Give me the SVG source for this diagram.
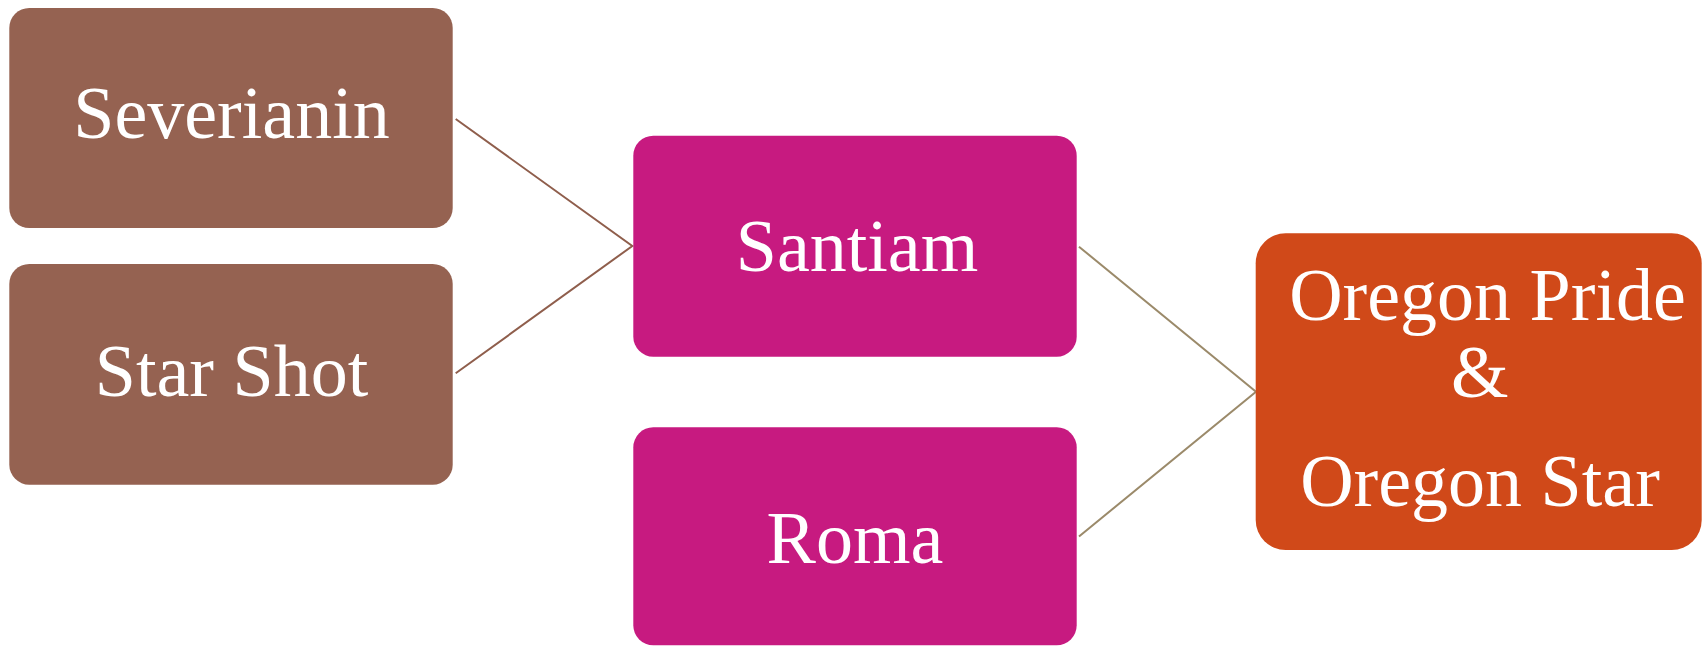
<svg xmlns="http://www.w3.org/2000/svg" width="1707" height="646" viewBox="0 0 1707 646">
<style>
.lbl{font-family:"Liberation Serif","Times New Roman",serif;font-size:74px;fill:#FFFFFF;text-anchor:middle}
.brown{fill:#956251}
.mag{fill:#C71A80}
.org{fill:#D04919}
.c1{stroke:#8F5E4C;stroke-width:2;fill:none}
.c2{stroke:#9B8A6A;stroke-width:2;fill:none}
</style>
<rect width="1707" height="646" fill="#FFFFFF"/>
<g id="connectors">
<path class="c1" d="M455.7,119 L632.3,246 L455.7,373.3"/>
<path class="c2" d="M1079,246.7 L1256,391.7 L1079,536.5"/>
</g>
<g id="severianin">
<rect class="brown" x="9.3" y="8" width="443.4" height="220" rx="20" ry="20"/>
<text class="lbl" x="231.5" y="138">Severianin</text>
</g>
<g id="starshot">
<rect class="brown" x="9.3" y="264" width="443.4" height="220.7" rx="20" ry="20"/>
<text class="lbl" x="231.5" y="395.7">Star Shot</text>
</g>
<g id="santiam">
<rect class="mag" x="633.3" y="135.7" width="443.4" height="221" rx="20" ry="20"/>
<text class="lbl" x="857" y="271">Santiam</text>
</g>
<g id="roma">
<rect class="mag" x="633.3" y="427.3" width="443.4" height="218" rx="20" ry="20"/>
<text class="lbl" x="855" y="562.7">Roma</text>
</g>
<g id="oregon">
<rect class="org" x="1255.7" y="233.3" width="446" height="316.7" rx="30" ry="30"/>
<text class="lbl" x="1487.5" y="320">Oregon Pride</text>
<text class="lbl" x="1479.7" y="396.7">&amp;</text>
<text class="lbl" x="1480" y="506">Oregon Star</text>
</g>
</svg>
